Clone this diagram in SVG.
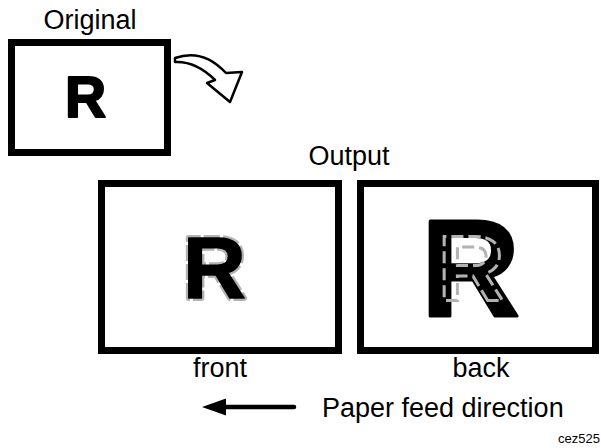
<svg xmlns="http://www.w3.org/2000/svg" width="601" height="448" viewBox="0 0 601 448">
<style>
.lbl{font-family:"Liberation Sans",Arial,sans-serif;font-size:27px;fill:#000}
.box{fill:#fff;stroke:#000;stroke-width:7}
.bigR{font-family:"Liberation Sans",Arial,sans-serif;font-weight:bold}
</style>
<rect width="601" height="448" fill="#fff"/>
<g id="original">
<text class="lbl" x="90" y="29" text-anchor="middle">Original</text>
<rect class="box" x="11.5" y="42.5" width="156" height="110"/>
<text class="bigR" x="65" y="117" font-size="57" fill="#000" stroke="#000" stroke-width="2" stroke-linejoin="round">R</text>
</g>
<g id="rotate-arrow">
<path d="M175,58 Q203,48 226,73 L242,72 L230,102 L207,83 L215,80 Q196,61 175,62 Z" fill="#fff" stroke="#000" stroke-width="2.5" stroke-linejoin="round"/>
</g>
<text class="lbl" x="349" y="165" text-anchor="middle">Output</text>
<g id="front">
<rect class="box" x="101.5" y="183.5" width="237" height="167"/>
<text class="bigR" x="183" y="298" font-size="87" fill="#000" stroke="#b3b3b3" stroke-width="6" stroke-dasharray="16 3" stroke-linejoin="round" paint-order="stroke">R</text>
<text class="bigR" x="183" y="298" font-size="87" fill="#000" stroke="#000" stroke-width="1.5" stroke-linejoin="round">R</text>
<text class="lbl" x="220" y="377" text-anchor="middle">front</text>
</g>
<g id="back">
<rect class="box" x="360.5" y="183.5" width="235" height="167"/>
<text class="bigR" x="421" y="316" font-size="137" fill="#000" stroke="#000" stroke-width="3" stroke-linejoin="round">R</text>
<text class="bigR" x="438" y="300" font-size="92" fill="none" stroke="#b3b3b3" stroke-width="3" stroke-dasharray="12 5">R</text>
<text class="lbl" x="481" y="377" text-anchor="middle">back</text>
</g>
<g id="connectors">
<line x1="222" y1="407" x2="294" y2="407" stroke="#000" stroke-width="4.5" stroke-linecap="round"/>
<path d="M202,407 L226,398.5 L226,415.5 Z" fill="#000"/>
</g>
<text class="lbl" x="322" y="417">Paper feed direction</text>
<text x="558" y="443" font-family="Liberation Sans,Arial,sans-serif" font-size="13">cez525</text>
</svg>
